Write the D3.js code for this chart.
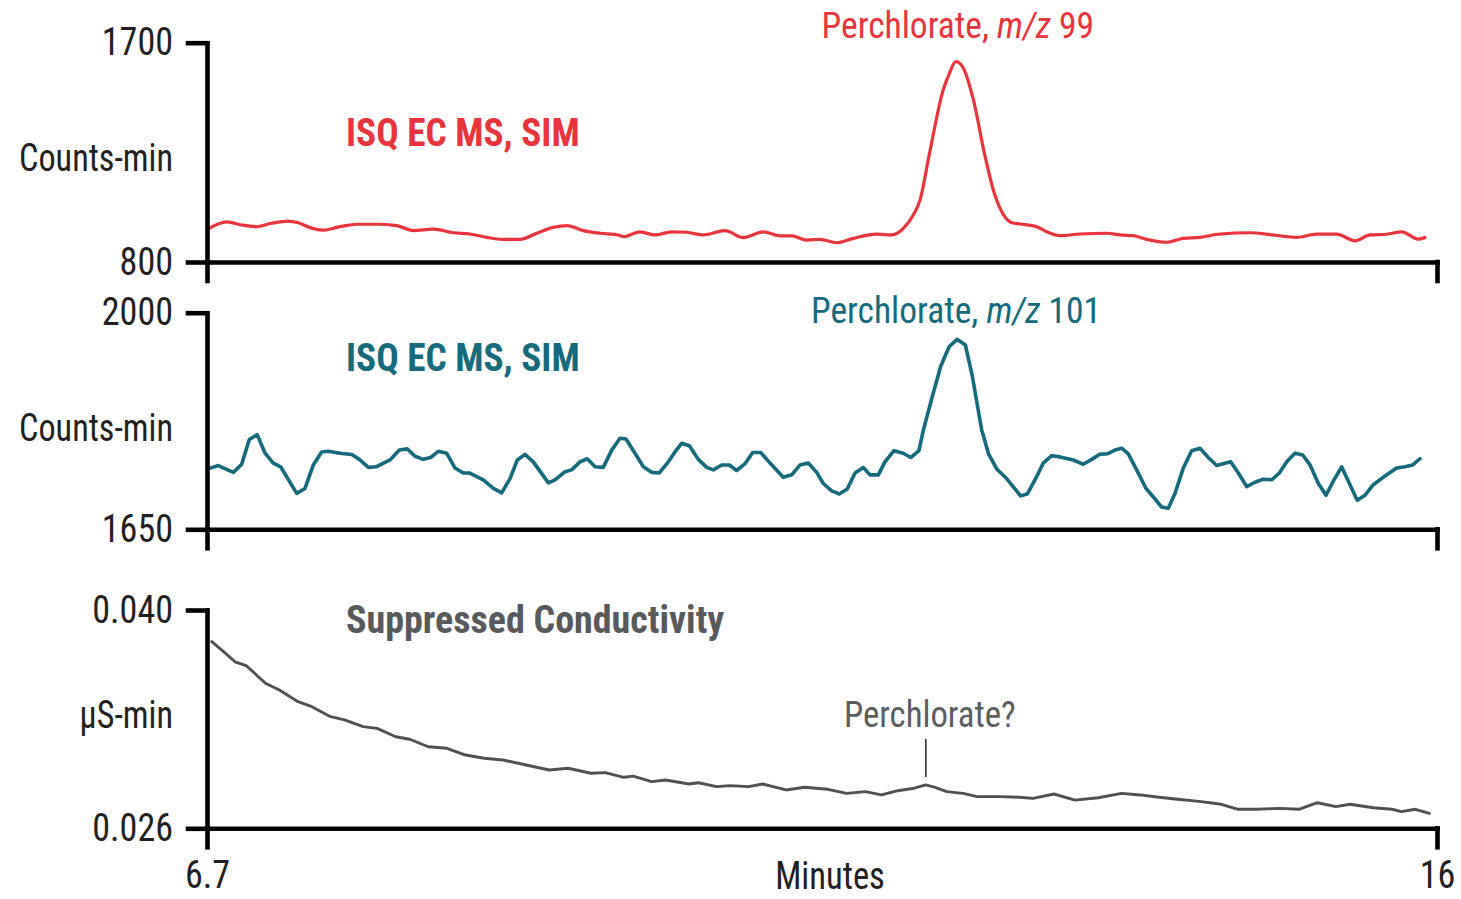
<!DOCTYPE html>
<html>
<head>
<meta charset="utf-8">
<script src="https://cdn.jsdelivr.net/npm/d3@7"></script>
<style>
  html, body { margin: 0; padding: 0; background: #ffffff; }
  svg { display: block; }
</style>
</head>
<body>
<svg id="chart" width="1461" height="899"></svg>
<script>
// ---- Data -------------------------------------------------------------
// Retention time axis (minutes)
const timeRange = [6.7, 16];

// ISQ EC MS, SIM trace at m/z 99 (counts-min)
const mz99Time = [6.715, 6.849, 6.962, 7.076, 7.189, 7.315, 7.390, 7.479, 7.579, 7.706,
  7.832, 7.983, 8.134, 8.260, 8.411, 8.562, 8.689, 8.815, 8.940, 9.067,
  9.193, 9.318, 9.420, 9.545, 9.671, 9.810, 9.848, 9.974, 10.087, 10.214,
  10.327, 10.452, 10.617, 10.755, 10.906, 11.032, 11.121, 11.234, 11.335, 11.461,
  11.587, 11.764, 11.877, 11.965, 12.040, 12.091, 12.163, 12.266, 12.308, 12.362,
  12.412, 12.495, 12.578, 12.653, 12.723, 12.786, 12.847, 12.973, 13.049, 13.150,
  13.301, 13.503, 13.603, 13.704, 13.805, 13.956, 14.082, 14.208, 14.359, 14.586,
  14.762, 14.939, 15.090, 15.242, 15.380, 15.493, 15.620, 15.733, 15.858, 15.909];
const mz99Counts = [938, 965, 952, 945, 959, 968, 961, 941, 931, 945,
  955, 955, 949, 929, 935, 920, 915, 901, 893, 893,
  918, 942, 949, 929, 918, 911, 904, 924, 911, 924,
  922, 911, 929, 900, 924, 907, 907, 890, 893, 879,
  897, 914, 911, 938, 993, 1054, 1246, 1506, 1567, 1622,
  1602, 1465, 1246, 1082, 993, 961, 956, 945, 924, 908,
  915, 918, 911, 908, 893, 881, 897, 901, 915, 920,
  911, 901, 914, 914, 887, 911, 914, 924, 894, 900];

// ISQ EC MS, SIM trace at m/z 101 (counts-min)
const mz101Time = [6.712, 6.785, 6.899, 6.962, 7.020, 7.080, 7.139, 7.201, 7.257, 7.378,
  7.441, 7.504, 7.567, 7.617, 7.706, 7.794, 7.852, 7.920, 7.978, 8.084,
  8.154, 8.214, 8.273, 8.335, 8.391, 8.449, 8.512, 8.575, 8.638, 8.683,
  8.789, 8.865, 8.928, 8.991, 9.046, 9.104, 9.167, 9.281, 9.331, 9.407,
  9.457, 9.520, 9.575, 9.634, 9.696, 9.760, 9.823, 9.868, 9.936, 9.999,
  10.062, 10.120, 10.188, 10.238, 10.289, 10.347, 10.415, 10.478, 10.528, 10.592,
  10.649, 10.705, 10.768, 10.826, 10.887, 10.957, 11.057, 11.121, 11.184, 11.246,
  11.310, 11.360, 11.423, 11.481, 11.541, 11.600, 11.662, 11.713, 11.776, 11.826,
  11.894, 11.965, 12.021, 12.083, 12.117, 12.177, 12.247, 12.311, 12.371, 12.434,
  12.487, 12.557, 12.609, 12.673, 12.746, 12.851, 12.902, 12.973, 13.023, 13.087,
  13.149, 13.250, 13.326, 13.389, 13.447, 13.507, 13.565, 13.616, 13.666, 13.729,
  13.800, 13.868, 13.918, 13.968, 14.019, 14.082, 14.145, 14.208, 14.271, 14.334,
  14.440, 14.498, 14.561, 14.624, 14.687, 14.750, 14.808, 14.864, 14.926, 14.985,
  15.040, 15.103, 15.161, 15.221, 15.279, 15.342, 15.397, 15.455, 15.518, 15.593,
  15.695, 15.758, 15.816, 15.871];
const mz101Counts = [1748, 1753, 1742, 1755, 1795, 1803, 1773, 1757, 1751, 1708,
  1716, 1754, 1775, 1776, 1773, 1771, 1763, 1750, 1751, 1762,
  1778, 1780, 1768, 1763, 1766, 1776, 1773, 1749, 1741, 1741,
  1730, 1716, 1709, 1732, 1762, 1771, 1759, 1725, 1730, 1743,
  1746, 1759, 1764, 1751, 1750, 1778, 1797, 1796, 1773, 1751,
  1742, 1741, 1759, 1775, 1789, 1785, 1763, 1750, 1746, 1754,
  1754, 1745, 1756, 1774, 1774, 1757, 1734, 1738, 1754, 1757,
  1742, 1724, 1712, 1707, 1715, 1741, 1750, 1738, 1738, 1759,
  1777, 1773, 1766, 1777, 1811, 1859, 1913, 1945, 1957, 1948,
  1897, 1811, 1772, 1747, 1732, 1704, 1707, 1735, 1757, 1769,
  1767, 1762, 1755, 1763, 1771, 1772, 1778, 1781, 1772, 1746,
  1716, 1699, 1686, 1684, 1708, 1749, 1777, 1781, 1766, 1753,
  1759, 1741, 1719, 1726, 1731, 1730, 1741, 1759, 1773, 1770,
  1754, 1724, 1705, 1730, 1751, 1722, 1697, 1705, 1722, 1734,
  1749, 1751, 1754, 1764];

// Suppressed conductivity trace (µS-min)
const condTime = [6.736, 6.825, 6.912, 7.000, 7.142, 7.247, 7.388, 7.493, 7.634, 7.740,
  7.880, 7.986, 8.127, 8.233, 8.373, 8.514, 8.655, 8.796, 8.937, 9.113,
  9.288, 9.430, 9.605, 9.711, 9.851, 9.922, 10.063, 10.168, 10.344, 10.415,
  10.555, 10.654, 10.795, 10.901, 11.078, 11.218, 11.395, 11.536, 11.677, 11.800,
  11.923, 12.047, 12.135, 12.205, 12.294, 12.417, 12.523, 12.699, 12.840, 12.945,
  13.104, 13.263, 13.439, 13.615, 13.757, 13.897, 14.039, 14.215, 14.356, 14.497,
  14.637, 14.814, 14.955, 15.096, 15.236, 15.342, 15.518, 15.660, 15.730, 15.836,
  15.942];
const condValues = [0.03797, 0.03733, 0.03668, 0.03641, 0.03530, 0.03487, 0.03412, 0.03380, 0.03316, 0.03295,
  0.03252, 0.03241, 0.03187, 0.03171, 0.03123, 0.03113, 0.03070, 0.03049, 0.03038, 0.03006,
  0.02974, 0.02985, 0.02953, 0.02957, 0.02927, 0.02935, 0.02899, 0.02910, 0.02884, 0.02892,
  0.02867, 0.02874, 0.02867, 0.02884, 0.02846, 0.02863, 0.02850, 0.02824, 0.02835, 0.02814,
  0.02841, 0.02857, 0.02878, 0.02863, 0.02835, 0.02824, 0.02803, 0.02803, 0.02799, 0.02792,
  0.02820, 0.02781, 0.02796, 0.02824, 0.02814, 0.02799, 0.02786, 0.02771, 0.02756, 0.02722,
  0.02722, 0.02728, 0.02722, 0.02764, 0.02739, 0.02754, 0.02732, 0.02722, 0.02707, 0.02722,
  0.02696];

// Axis tick values
const mz99Ticks = [800, 1700];
const mz101Ticks = [1650, 2000];
const condTicks = [0.026, 0.040];
const timeTicks = [6.7, 16];

// Annotated peak apex times
const peakTime99 = 12.362;
const peakTime101 = 12.371;
const condPeakTime = 12.135;
const condPeakValue = 0.02878;

// ---- Drawing ----------------------------------------------------------
const FONT = "'Liberation Sans Narrow', 'Arial Narrow', 'Roboto Condensed', sans-serif";
const RED = "#e8343d";
const TEAL = "#156a7b";
const GREY = "#58595b";
const INK = "#231f20";

// Narrow a text horizontally while keeping its anchor point in place
function squeeze(sel, sx) {
  sel.each(function () {
    const t = d3.select(this);
    const x0 = +(t.attr("x") || 0);
    t.attr("x", x0 / sx).attr("transform", `scale(${sx},1)`);
  });
  return sel;
}

const svg = d3.select("#chart");
svg.append("rect").attr("width", 1461).attr("height", 899).attr("fill", "#fff");

const x = d3.scaleLinear().domain(timeRange).range([207, 1437]);

const panels = [
  { time: mz99Time, values: mz99Counts, ticks: mz99Ticks, fmt: d3.format("d"),
    range: [262, 42.7], color: RED, width: 3.2, curve: d3.curveMonotoneX,
    unit: "Counts-min", unitY: 158, title: "ISQ EC MS, SIM", titleColor: RED, titleY: 133, titleSx: 0.98 },
  { time: mz101Time, values: mz101Counts, ticks: mz101Ticks, fmt: d3.format("d"),
    range: [529.3, 312.7], color: TEAL, width: 3.6, curve: d3.curveLinear,
    unit: "Counts-min", unitY: 428, title: "ISQ EC MS, SIM", titleColor: TEAL, titleY: 358, titleSx: 0.98 },
  { time: condTime, values: condValues, ticks: condTicks, fmt: d3.format(".3f"),
    range: [828.3, 610], color: "#505052", width: 2.9, curve: d3.curveLinear,
    unit: "\u00b5S-min", unitY: 715, title: "Suppressed Conductivity", titleColor: GREY, titleY: 620, titleSx: 1.0 }
];

panels.forEach((p, i) => {
  const y = d3.scaleLinear().domain(p.ticks).range(p.range);
  p.y = y;
  const g = svg.append("g");

  // trace
  const pts = p.time.map((t, k) => [t, p.values[k]]);
  g.append("path")
    .datum(pts)
    .attr("fill", "none")
    .attr("stroke", p.color)
    .attr("stroke-width", p.width)
    .attr("stroke-linejoin", "round")
    .attr("stroke-linecap", "round")
    .attr("d", d3.line().x(d => x(d[0])).y(d => y(d[1])).curve(p.curve));

  // y axis
  const yAxis = g.append("g")
    .attr("transform", `translate(${x(timeRange[0])},0)`)
    .call(d3.axisLeft(y).tickValues(p.ticks).tickFormat(p.fmt)
      .tickSize(19).tickSizeOuter(0).tickPadding(15));

  // x axis (labels only on the bottom panel)
  const last = i === panels.length - 1;
  const xAxis = g.append("g")
    .attr("transform", `translate(0,${p.range[0]})`)
    .call(d3.axisBottom(x).tickValues(timeTicks)
      .tickFormat(last ? d3.format("") : () => "")
      .tickSize(19).tickSizeOuter(0).tickPadding(14));

  [yAxis, xAxis].forEach(a => {
    a.attr("font-family", FONT).attr("font-size", 38);
    a.selectAll("path.domain, .tick line")
      .attr("stroke", "#000").attr("stroke-width", 4.6).attr("stroke-linecap", "square");
    a.selectAll("text").attr("fill", INK);
    squeeze(a.selectAll("text"), 0.95);
  });

  // unit label
  squeeze(g.append("text")
    .attr("x", 173).attr("y", p.unitY).attr("dy", "0.35em")
    .attr("text-anchor", "end")
    .attr("font-family", FONT).attr("font-size", 38)
    .attr("fill", INK)
    .text(p.unit), 0.9);

  // trace title
  squeeze(g.append("text")
    .attr("x", 346).attr("y", p.titleY).attr("dy", "0.35em")
    .attr("font-family", FONT).attr("font-size", 38).attr("font-weight", "bold")
    .attr("fill", p.titleColor)
    .text(p.title), p.titleSx);
});

// peak labels
function peakLabel(cx, cy, color, ion) {
  const t = svg.append("text")
    .attr("x", cx).attr("y", cy).attr("dy", "0.35em")
    .attr("text-anchor", "middle")
    .attr("font-family", FONT).attr("font-size", 37)
    .attr("fill", color);
  t.append("tspan").text("Perchlorate, ");
  t.append("tspan").attr("font-style", "italic").text("m/z");
  t.append("tspan").text(" " + ion);
  squeeze(t, 0.96);
}
peakLabel(x(peakTime99) + 2, 25, RED, "99");
peakLabel(x(peakTime101) - 1, 310, TEAL, "101");

// conductivity annotation
const yc = panels[2].y;
svg.append("line")
  .attr("x1", x(condPeakTime)).attr("x2", x(condPeakTime))
  .attr("y1", yc(condPeakValue) - 8).attr("y2", yc(condPeakValue) - 46)
  .attr("stroke", "#333").attr("stroke-width", 1.6);
squeeze(svg.append("text")
  .attr("x", x(condPeakTime) + 4).attr("y", 714).attr("dy", "0.35em")
  .attr("text-anchor", "middle")
  .attr("font-family", FONT).attr("font-size", 37)
  .attr("fill", "#5c5d5f")
  .text("Perchlorate?"), 0.94);

// x axis title
squeeze(svg.append("text")
  .attr("x", 830).attr("y", 876).attr("dy", "0.35em")
  .attr("text-anchor", "middle")
  .attr("font-family", FONT).attr("font-size", 38)
  .attr("fill", INK)
  .text("Minutes"), 0.91);
</script>
</body>
</html>
